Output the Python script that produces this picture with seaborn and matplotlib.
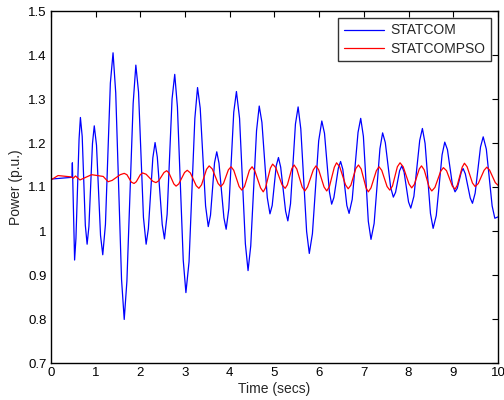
import numpy as np
import pandas as pd
import matplotlib
matplotlib.use("Agg")
import matplotlib.pyplot as plt
import seaborn as sns

# STATCOM (blue): extrema plus shoulder points
t_statcom = [0.0, 0.47, 0.48, 0.53, 0.56, 0.63, 0.66, 0.70, 0.77, 0.81, 0.85, 0.93, 0.97,
             1.02, 1.11, 1.16, 1.22, 1.33, 1.39, 1.45, 1.58, 1.64, 1.70, 1.84, 1.90,
             1.96, 2.07, 2.13, 2.18, 2.28, 2.33, 2.38, 2.49, 2.54, 2.60, 2.71, 2.77,
             2.83, 2.96, 3.02, 3.09, 3.22, 3.28, 3.34, 3.46, 3.52, 3.57, 3.66, 3.71,
             3.76, 3.87, 3.92, 3.98, 4.09, 4.15, 4.22, 4.35, 4.41, 4.47, 4.60, 4.66,
             4.72, 4.84, 4.90, 4.95, 5.04, 5.09, 5.14, 5.25, 5.30, 5.36, 5.47, 5.53,
             5.59, 5.72, 5.78, 5.85, 5.99, 6.06, 6.12, 6.23, 6.28, 6.33, 6.43, 6.48,
             6.53, 6.62, 6.67, 6.74, 6.87, 6.93, 6.99, 7.10, 7.16, 7.23, 7.36, 7.42,
             7.48, 7.60, 7.66, 7.71, 7.80, 7.85, 7.90, 8.00, 8.05, 8.12, 8.25, 8.31,
             8.37, 8.49, 8.55, 8.62, 8.75, 8.81, 8.87, 8.98, 9.04, 9.09, 9.18, 9.22,
             9.27, 9.38, 9.43, 9.49, 9.61, 9.67, 9.74, 9.87, 9.93, 10.0]
p_statcom = [1.118, 1.122, 1.155, 0.934, 0.983, 1.209, 1.258, 1.215, 1.013, 0.970, 1.010, 1.199, 1.239,
             1.195, 0.990, 0.946, 1.015, 1.336, 1.405, 1.314, 0.890, 0.799, 0.886, 1.290, 1.377,
             1.316, 1.031, 0.970, 1.005, 1.166, 1.201, 1.168, 1.015, 0.982, 1.038, 1.300, 1.356,
             1.282, 0.934, 0.860, 0.930, 1.256, 1.326, 1.279, 1.057, 1.010, 1.036, 1.155, 1.180,
             1.154, 1.030, 1.004, 1.051, 1.270, 1.317, 1.256, 0.971, 0.910, 0.966, 1.228, 1.284,
             1.247, 1.076, 1.039, 1.058, 1.148, 1.167, 1.145, 1.045, 1.023, 1.062, 1.243, 1.282,
             1.232, 0.999, 0.949, 0.994, 1.205, 1.250, 1.222, 1.089, 1.061, 1.076, 1.143, 1.158,
             1.140, 1.058, 1.040, 1.072, 1.224, 1.256, 1.215, 1.022, 0.981, 1.017, 1.187, 1.223,
             1.201, 1.099, 1.077, 1.088, 1.137, 1.148, 1.134, 1.066, 1.052, 1.079, 1.206, 1.233,
             1.199, 1.040, 1.006, 1.035, 1.173, 1.202, 1.185, 1.106, 1.089, 1.097, 1.134, 1.142,
             1.130, 1.075, 1.063, 1.086, 1.191, 1.214, 1.186, 1.057, 1.029, 1.032]

# STATCOMPSO (red)
t_pso = [0.0, 0.16, 0.45, 0.50, 0.55, 0.65, 0.91, 1.17, 1.28, 1.37, 1.55, 1.64, 1.70, 1.80,
         1.86, 1.91, 2.00, 2.05, 2.13, 2.28, 2.35, 2.41, 2.53, 2.59, 2.64, 2.75, 2.80,
         2.86, 2.99, 3.05, 3.12, 3.25, 3.31, 3.37, 3.48, 3.54, 3.61, 3.74, 3.80, 3.86,
         3.97, 4.03, 4.09, 4.21, 4.27, 4.33, 4.44, 4.50, 4.56, 4.69, 4.75, 4.80, 4.91,
         4.96, 5.03, 5.17, 5.24, 5.29, 5.39, 5.44, 5.50, 5.62, 5.68, 5.74, 5.87, 5.93,
         5.99, 6.11, 6.17, 6.23, 6.34, 6.39, 6.46, 6.59, 6.65, 6.71, 6.82, 6.88, 6.94,
         7.05, 7.10, 7.16, 7.28, 7.34, 7.40, 7.52, 7.58, 7.64, 7.75, 7.81, 7.88, 8.01,
         8.07, 8.13, 8.24, 8.29, 8.35, 8.46, 8.52, 8.59, 8.72, 8.78, 8.85, 8.98, 9.04,
         9.09, 9.20, 9.25, 9.31, 9.43, 9.49, 9.56, 9.69, 9.75, 9.81, 9.94, 10.0]
p_pso = [1.116, 1.126, 1.123, 1.120, 1.125, 1.116, 1.128, 1.124, 1.112, 1.115, 1.128, 1.131, 1.128, 1.111,
         1.108, 1.112, 1.128, 1.132, 1.129, 1.113, 1.110, 1.114, 1.133, 1.137, 1.132, 1.107, 1.102,
         1.107, 1.133, 1.138, 1.132, 1.103, 1.097, 1.105, 1.140, 1.148, 1.141, 1.108, 1.101, 1.108,
         1.139, 1.146, 1.138, 1.101, 1.093, 1.101, 1.138, 1.146, 1.137, 1.098, 1.089, 1.098, 1.143,
         1.152, 1.144, 1.105, 1.097, 1.105, 1.142, 1.150, 1.141, 1.100, 1.091, 1.100, 1.139, 1.148,
         1.139, 1.100, 1.091, 1.101, 1.145, 1.155, 1.146, 1.105, 1.096, 1.104, 1.142, 1.150, 1.141,
         1.098, 1.089, 1.098, 1.137, 1.146, 1.138, 1.101, 1.093, 1.102, 1.146, 1.155, 1.146, 1.107,
         1.098, 1.106, 1.141, 1.148, 1.139, 1.100, 1.091, 1.099, 1.136, 1.144, 1.137, 1.102, 1.095,
         1.104, 1.145, 1.154, 1.146, 1.109, 1.101, 1.108, 1.138, 1.145, 1.139, 1.110, 1.104]

df = pd.concat([
    pd.DataFrame({'Time': t_statcom, 'Power': p_statcom, 'Series': 'STATCOM'}),
    pd.DataFrame({'Time': t_pso, 'Power': p_pso, 'Series': 'STATCOMPSO'}),
], ignore_index=True)

sns.set_style('white')
plt.rcParams['font.family'] = ['Liberation Sans', 'DejaVu Sans']

fig = plt.figure(figsize=(5.04, 4.0), dpi=100)
ax = fig.add_axes([0.101, 0.0925, 0.887, 0.88])

sns.lineplot(data=df, x='Time', y='Power', hue='Series', sort=False,
             palette={'STATCOM': '#0000ff', 'STATCOMPSO': '#ff0000'},
             linewidth=0.9, ax=ax)

ax.set_xlim(0, 10)
ax.set_ylim(0.7, 1.5)
ax.set_xticks(np.arange(0, 11, 1))
ax.set_yticks(np.round(np.arange(0.7, 1.51, 0.1), 1))
ax.set_yticklabels(['0.7', '0.8', '0.9', '1', '1.1', '1.2', '1.3', '1.4', '1.5'])
ax.tick_params(direction='in', length=4, width=0.8, labelsize=9.5, top=True, right=True,
               colors='black', pad=3)
for s in ax.spines.values():
    s.set_color('black')
    s.set_linewidth(1.0)
ax.set_xlabel('Time (secs)', fontsize=10, labelpad=2)
ax.set_ylabel('Power (p.u.)', fontsize=10, labelpad=4)

leg = ax.legend(title=None, loc='upper right', fontsize=10, frameon=True, fancybox=False,
                edgecolor='black', borderaxespad=0.5, handlelength=2.9, handletextpad=0.45,
                borderpad=0.4, labelspacing=0.3)
leg.get_frame().set_linewidth(1.0)

fig.savefig('out.png', dpi=100)
